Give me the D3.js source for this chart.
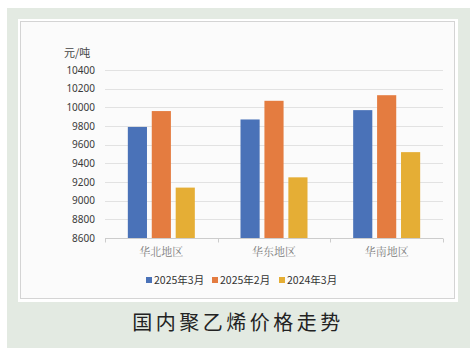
<!DOCTYPE html>
<html><head><meta charset="utf-8">
<script src="https://cdn.jsdelivr.net/npm/d3@7"></script>
<style>
html,body{margin:0;padding:0;background:#fff;}
svg{display:block;}
</style></head>
<body>
<svg id="c" width="476" height="358"></svg>
<script>
const categories = ["华北地区", "华东地区", "华南地区"];
const seriesNames = ["2025年3月", "2025年2月", "2024年3月"];
const mar2025 = [9790, 9870, 9970];
const feb2025 = [9960, 10070, 10130];
const mar2024 = [9140, 9250, 9520];
const yTicks = [8600, 8800, 9000, 9200, 9400, 9600, 9800, 10000, 10200, 10400];
const colors = ["#4a72b8", "#e47c40", "#e5ae35"];
const unitLabel = "元/吨";
const title = "国内聚乙烯价格走势";

const series = [mar2025, feb2025, mar2024];
const svg = d3.select("#c");
const GW = 67;

// panels
svg.append("rect").attr("x", 7).attr("y", 8).attr("width", 463).attr("height", 340).attr("fill", "#e3eae2");
svg.append("rect").attr("x", 18).attr("y", 19).attr("width", 440).attr("height", 283).attr("fill", "#ffffff");
svg.append("rect").attr("x", 20.5).attr("y", 21.5).attr("width", 434).attr("height", 277).attr("fill", "#fbfbfb").attr("stroke", "#d4d4d4").attr("stroke-width", 1);

const x0 = d3.scaleBand().domain(categories).range([105, 443]).paddingInner(0).paddingOuter(0);
const x1 = d3.scaleBand().domain(d3.range(series.length)).range([0, GW]).paddingInner(0.2).paddingOuter(0);
const y = d3.scaleLinear().domain([8600, 10400]).range([238, 70]);

// gridlines
svg.append("g").selectAll("line").data(yTicks.slice(1)).join("line")
  .attr("x1", 105).attr("x2", 443)
  .attr("y1", d => Math.round(y(d)) + 0.5).attr("y2", d => Math.round(y(d)) + 0.5)
  .attr("stroke", "#e2e2e2").attr("stroke-width", 1);

// y labels
svg.append("g").selectAll("text").data(yTicks).join("text")
  .attr("x", 95).attr("y", d => y(d)).attr("dy", "0.35em")
  .attr("text-anchor", "end")
  .attr("font-family", "Noto Sans, sans-serif").attr("font-size", 10)
  .attr("fill", "#3a3a3a").text(d => d);

svg.append("text").attr("x", 64).attr("y", 53).attr("dy", "0.35em")
  .attr("font-family", "Noto Sans CJK SC, sans-serif").attr("font-size", 11)
  .attr("fill", "#444").text(unitLabel);

// bars
const groups = svg.append("g").selectAll("g").data(categories).join("g")
  .attr("transform", c => `translate(${x0(c) + (x0.bandwidth() - GW) / 2},0)`);
groups.selectAll("rect").data((c, i) => series.map((s, k) => ({k, v: s[i]}))).join("rect")
  .attr("x", d => x1(d.k)).attr("width", x1.bandwidth())
  .attr("y", d => y(d.v)).attr("height", d => y(8600) - y(d.v))
  .attr("fill", d => colors[d.k]);

// x axis
const xAxis = svg.append("g").attr("transform", "translate(0,238.5)");
xAxis.append("line").attr("x1", 105).attr("x2", 443).attr("stroke", "#cccccc");
xAxis.selectAll("line.t").data([105, 105 + x0.step(), 105 + 2 * x0.step(), 443]).join("line")
  .attr("class", "t").attr("x1", d => Math.round(d) + 0.5).attr("x2", d => Math.round(d) + 0.5)
  .attr("y1", 0).attr("y2", 4).attr("stroke", "#cccccc");
svg.append("g").selectAll("text").data(categories).join("text")
  .attr("x", c => x0(c) + x0.bandwidth() / 2).attr("y", 252).attr("dy", "0.35em")
  .attr("text-anchor", "middle")
  .attr("font-family", "Noto Serif CJK SC, Noto Sans CJK SC, serif").attr("font-size", 11)
  .attr("fill", "#808080").text(c => c);

// legend
const legX = [146, 212, 279];
const leg = svg.append("g").selectAll("g").data(seriesNames).join("g")
  .attr("transform", (d, i) => `translate(${legX[i]},280)`);
leg.append("rect").attr("x", 0).attr("y", -3).attr("width", 6).attr("height", 6).attr("fill", (d, i) => colors[i]);
leg.append("text").attr("x", 8).attr("y", 0).attr("dy", "0.35em")
  .attr("font-family", "Noto Sans CJK SC, sans-serif").attr("font-size", 10.5)
  .attr("fill", "#333").text(d => d);

// title
svg.append("text").attr("x", 238).attr("y", 323).attr("dy", "0.35em")
  .attr("text-anchor", "middle")
  .attr("font-family", "Noto Sans CJK SC, sans-serif").attr("font-size", 20)
  .attr("letter-spacing", 3.5)
  .attr("fill", "#222").text(title);
</script>
</body></html>
